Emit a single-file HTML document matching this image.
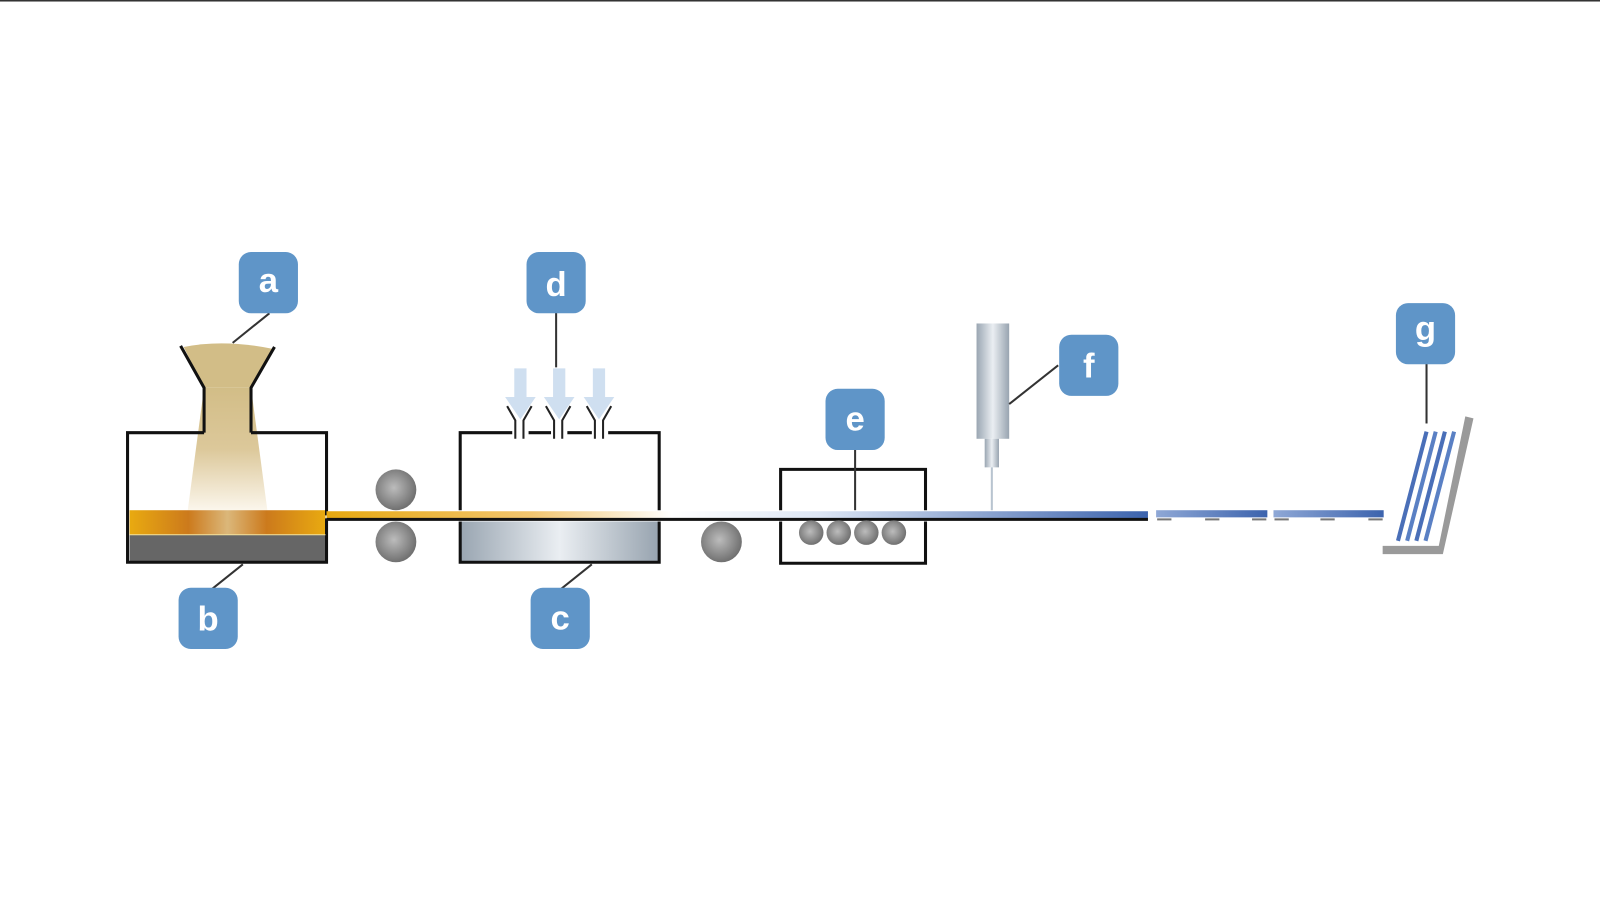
<!DOCTYPE html>
<html><head><meta charset="utf-8"><style>
html,body{margin:0;padding:0;background:#fff;}
svg{display:block;}
text{font-family:"Liberation Sans",sans-serif;font-weight:bold;fill:#fff;font-size:34px;}
</style></head><body>
<svg width="1600" height="899" viewBox="0 0 1568 881" preserveAspectRatio="none" xmlns="http://www.w3.org/2000/svg">
<defs>
<linearGradient id="orng" x1="0" x2="1" y1="0" y2="0">
<stop offset="0" stop-color="#e9aa10"/><stop offset="0.3" stop-color="#cc7a1c"/><stop offset="0.5" stop-color="#dbb77a"/><stop offset="0.7" stop-color="#cc7a1c"/><stop offset="1" stop-color="#e9aa10"/></linearGradient>
<linearGradient id="sand" x1="0" x2="0" y1="0" y2="1">
<stop offset="0" stop-color="#d2bd87"/><stop offset="0.5" stop-color="#dcc89a"/><stop offset="1" stop-color="#fbf6ec"/></linearGradient>
<linearGradient id="strip" x1="320" x2="1125" y1="0" y2="0" gradientUnits="userSpaceOnUse">
<stop offset="0" stop-color="#e6a810"/><stop offset="0.25" stop-color="#f2c670"/><stop offset="0.42" stop-color="#fff"/><stop offset="0.6" stop-color="#dde6f4"/><stop offset="1" stop-color="#3c63ad"/></linearGradient>
<linearGradient id="steel" x1="0" x2="1" y1="0" y2="0">
<stop offset="0" stop-color="#9aa6b2"/><stop offset="0.5" stop-color="#eaeef2"/><stop offset="1" stop-color="#98a4b0"/></linearGradient>
<radialGradient id="ball" cx="0.45" cy="0.45" r="0.6">
<stop offset="0" stop-color="#bcbcbc"/><stop offset="1" stop-color="#6a6a6a"/></radialGradient>
<linearGradient id="seg" x1="0" x2="1"><stop offset="0" stop-color="#8fa8d6"/><stop offset="1" stop-color="#3c63ad"/></linearGradient>
</defs>
<rect x="0" y="0" width="1568" height="1.5" fill="#333"/>

<polygon points="200,380 246,380 262,500 184,500" fill="url(#sand)"/>
<path d="M180,340 Q220,332 268,342 L246,380 L200,380 Z" fill="#d2bd87"/>
<rect x="127" y="500" width="192" height="24" fill="url(#orng)"/>
<rect x="127" y="524" width="192" height="27" fill="#666"/>
<path d="M200,424 L125,424 L125,551 L320,551 L320,508 M320,505 L320,424 L246,424" fill="none" stroke="#111" stroke-width="3"/>
<polyline points="177,339 200,380 200,424" fill="none" stroke="#111" stroke-width="3"/>
<polyline points="269,340 246,380 246,424" fill="none" stroke="#111" stroke-width="3"/>
<line x1="127" y1="524" x2="319" y2="524" stroke="#f3e3a0" stroke-width="1"/>

<rect x="320" y="501" width="805" height="7" fill="url(#strip)"/>
<line x1="320" y1="509" x2="1125" y2="509" stroke="#111" stroke-width="3"/>

<circle cx="388" cy="480" r="20" fill="url(#ball)"/>
<circle cx="388" cy="531" r="20" fill="url(#ball)"/>
<circle cx="707" cy="531" r="20" fill="url(#ball)"/>

<rect x="452" y="511" width="193" height="39" fill="url(#steel)"/>
<path d="M451,500 L451,424 L646,424 L646,500 M451,511 L451,551 L646,551 L646,511" fill="none" stroke="#111" stroke-width="3"/>
<g fill="#fff" stroke="none">
<rect x="502" y="420" width="16" height="8"/><rect x="540" y="420" width="16" height="8"/><rect x="580" y="420" width="16" height="8"/>
</g>
<g fill="none" stroke="#222" stroke-width="2">
<path d="M497,398 L505,412 L505,430 M521,398 L513,412 L513,430"/>
<path d="M535,398 L543,412 L543,430 M559,398 L551,412 L551,430"/>
<path d="M575,398 L583,412 L583,430 M599,398 L591,412 L591,430"/>
</g>
<g fill="#cfdff0">
<path d="M504,361 h12 v28 h9 l-15,22 l-15,-22 h9 z"/>
<path d="M542,361 h12 v28 h9 l-15,22 l-15,-22 h9 z"/>
<path d="M581,361 h12 v28 h9 l-15,22 l-15,-22 h9 z"/>
</g>

<path d="M765,500 L765,460 L907,460 L907,500 M765,511 L765,552 L907,552 L907,511" fill="none" stroke="#111" stroke-width="3"/>
<circle cx="795" cy="522" r="12" fill="url(#ball)"/>
<circle cx="822" cy="522" r="12" fill="url(#ball)"/>
<circle cx="849" cy="522" r="12" fill="url(#ball)"/>
<circle cx="876" cy="522" r="12" fill="url(#ball)"/>

<rect x="957" y="317" width="32" height="113" fill="url(#steel)"/>
<rect x="965" y="430" width="14" height="28" fill="url(#steel)"/>
<line x1="972" y1="458" x2="972" y2="500" stroke="#b8c4d0" stroke-width="2"/>

<rect x="1133" y="500" width="109" height="7" fill="url(#seg)"/>
<rect x="1248" y="500" width="108" height="7" fill="url(#seg)"/>
<g fill="#777">
<rect x="1134" y="508" width="14" height="2"/><rect x="1181" y="508" width="14" height="2"/><rect x="1227" y="508" width="14" height="2"/>
<rect x="1249" y="508" width="14" height="2"/><rect x="1294" y="508" width="14" height="2"/><rect x="1341" y="508" width="14" height="2"/>
</g>

<polygon points="1355,535 1410,535 1436,408 1444,410 1414,543 1355,543" fill="#9a9a9a"/>
<g stroke-width="4">
<line x1="1370" y1="530" x2="1398" y2="423" stroke="#4a6fb8"/>
<line x1="1379" y1="530" x2="1407" y2="423" stroke="#5a80c4"/>
<line x1="1388" y1="530" x2="1416" y2="423" stroke="#4a6fb8"/>
<line x1="1397" y1="530" x2="1425" y2="423" stroke="#5a80c4"/>
</g>

<g stroke="#333" stroke-width="2">
<line x1="264" y1="307" x2="228" y2="336"/>
<line x1="238" y1="553" x2="208" y2="577"/>
<line x1="580" y1="553" x2="550" y2="577"/>
<line x1="545" y1="306" x2="545" y2="360"/>
<line x1="838" y1="440" x2="838" y2="500"/>
<line x1="1037" y1="358" x2="989" y2="396"/>
<line x1="1398" y1="356" x2="1398" y2="415"/>
</g>

<g fill="#5f95c8">
<rect x="234" y="247" width="58" height="60" rx="12"/>
<rect x="516" y="247" width="58" height="60" rx="12"/>
<rect x="175" y="576" width="58" height="60" rx="12"/>
<rect x="520" y="576" width="58" height="60" rx="12"/>
<rect x="809" y="381" width="58" height="60" rx="12"/>
<rect x="1038" y="328" width="58" height="60" rx="12"/>
<rect x="1368" y="297" width="58" height="60" rx="12"/>
</g>
<g text-anchor="middle">
<text x="263" y="286">a</text>
<text x="545" y="290">d</text>
<text x="204" y="618">b</text>
<text x="549" y="617">c</text>
<text x="838" y="422">e</text>
<text x="1067" y="370">f</text>
<text x="1397" y="333">g</text>
</g>
</svg>
</body></html>
